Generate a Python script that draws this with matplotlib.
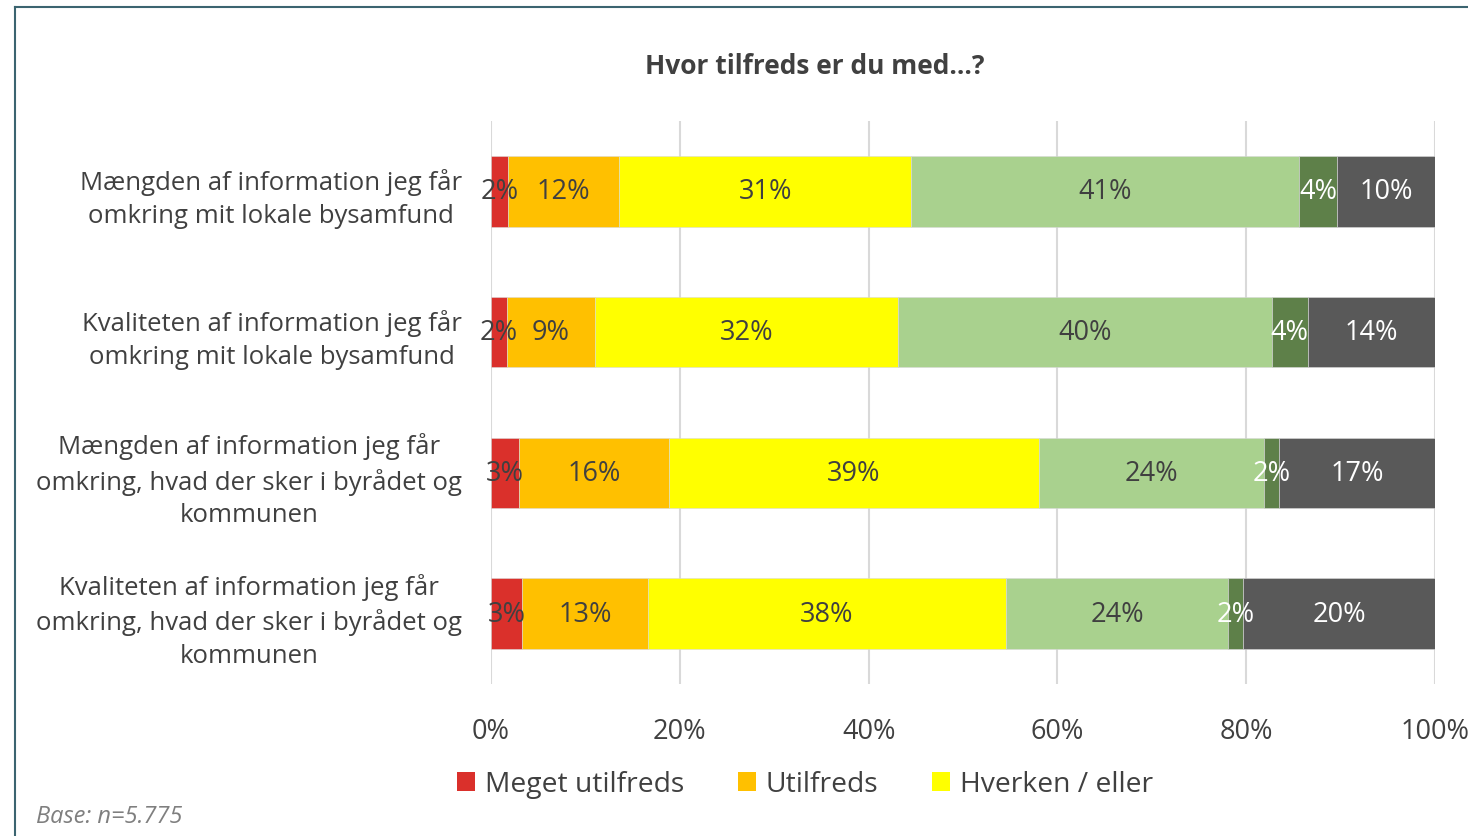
import matplotlib
matplotlib.use('Agg')
import matplotlib.pyplot as plt
from matplotlib.lines import Line2D
from matplotlib.patches import Patch
import numpy as np

plt.rcParams['font.family'] = ['Open Sans', 'DejaVu Sans']

# data
categories = [
    "Mængden af information jeg får\nomkring mit lokale bysamfund",
    "Kvaliteten af information jeg får\nomkring mit lokale bysamfund",
    "Mængden af information jeg får\nomkring, hvad der sker i byrådet og\nkommunen",
    "Kvaliteten af information jeg får\nomkring, hvad der sker i byrådet og\nkommunen",
]
series_names = ["Meget utilfreds", "Utilfreds", "Hverken / eller",
                "Tilfreds", "Meget tilfreds", "Ved ikke"]
meget_utilfreds = [1.8, 1.7, 3.0, 3.3]
utilfreds = [11.8, 9.3, 15.9, 13.3]
hverken = [30.9, 32.1, 39.1, 37.9]
tilfreds = [41.1, 39.6, 23.9, 23.6]
meget_tilfreds = [4.0, 3.8, 1.6, 1.6]
ved_ikke = [10.4, 13.5, 16.5, 20.3]
labels = [
    ["2%", "2%", "3%", "3%"],
    ["12%", "9%", "16%", "13%"],
    ["31%", "32%", "39%", "38%"],
    ["41%", "40%", "24%", "24%"],
    ["4%", "4%", "2%", "2%"],
    ["10%", "14%", "17%", "20%"],
]
ticks = [0, 20, 40, 60, 80, 100]

colors = ['#DA302B', '#FFC000', '#FFFF00', '#A9D18E', '#5E8049', '#595959']
label_colors = ['#404040', '#404040', '#404040', '#404040', 'white', 'white']

series = [meget_utilfreds, utilfreds, hverken, tilfreds, meget_tilfreds, ved_ikke]

fig = plt.figure(figsize=(14.68, 8.37), dpi=100)
ax = fig.add_axes([0.3345, 0.1816, 0.6431, 0.6726])

y = np.arange(len(categories))
left = np.zeros(len(categories))
handles = []
for i, vals in enumerate(series):
    vals = np.array(vals)
    bars = ax.barh(y, vals, left=left, height=0.5, color=colors[i],
                   edgecolor='#d9d9d9', linewidth=0.4, zorder=3)
    for j, b in enumerate(bars):
        ax.text(left[j] + vals[j] / 2, y[j], labels[i][j], ha='center', va='center',
                fontsize=19.5, color=label_colors[i], zorder=4)
    handles.append(Patch(facecolor=colors[i], label=series_names[i]))
    left += vals

ax.set_xlim(0, 100)
ax.set_ylim(3.5, -0.5)
ax.set_xticks(ticks)
ax.set_xticklabels([f"{t}%" for t in ticks], fontsize=19.5, color='#404040')
ax.set_yticks(y)
ax.set_yticklabels(categories, fontsize=18.5, color='#404040',
                   multialignment='center', linespacing=1.4)
ax.tick_params(axis='both', length=0)
ax.tick_params(axis='x', pad=24)
ax.tick_params(axis='y', pad=21)
ax.grid(axis='x', color='#d9d9d9', linewidth=1.5, zorder=0)
for s in ax.spines.values():
    s.set_visible(False)

fig.text(0.555, 0.921, "Hvor tilfreds er du med…?", ha='center', va='center',
         fontsize=19, fontweight='bold', color='#404040')

# only the first three entries are visible in the reference
fig.legend(handles=handles[:3], loc='center left', bbox_to_anchor=(0.311, 0.062),
           ncol=3, frameon=False, fontsize=20.3, handlelength=0.65, handleheight=0.65,
           handletextpad=0.35, columnspacing=1.9, borderpad=0, borderaxespad=0,
           labelcolor='#404040')

fig.text(0.0245, 0.024, "Base: n=5.775", ha='left', va='center', fontsize=17,
         style='italic', color='#7f7f7f')

# outer frame (cut off at right and bottom)
fig.add_artist(Line2D([0.0099, 0.0099], [0, 0.9904], color='#3b6470',
                      linewidth=1.5, transform=fig.transFigure))
fig.add_artist(Line2D([0.0099, 1.0], [0.9904, 0.9904], color='#3b6470',
                      linewidth=1.5, transform=fig.transFigure))

fig.savefig('out.png', dpi=100, facecolor='white')
